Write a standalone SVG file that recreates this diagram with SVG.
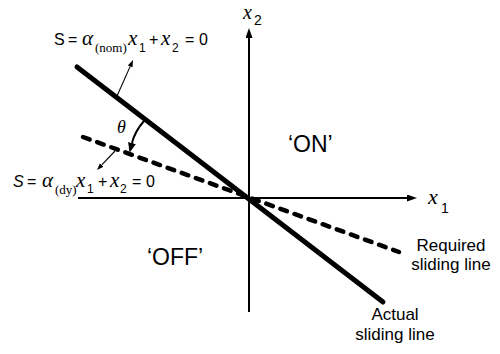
<svg xmlns="http://www.w3.org/2000/svg" width="500" height="354" viewBox="0 0 500 354">
<style>
.sans{font-family:"Liberation Sans",Arial,sans-serif;fill:#000}
.ser{font-family:"Liberation Serif","Times New Roman",serif;fill:#000}
.it{font-style:italic}
.axis{stroke:#000;stroke-width:2;fill:none}
.thin{stroke:#000;stroke-width:1.1;fill:none}
.lbl{font-size:17px;text-anchor:middle}
.reg{font-size:23px}
</style>
<defs>
<marker id="axArrow" markerUnits="userSpaceOnUse" markerWidth="10" markerHeight="8" refX="0" refY="3.5" orient="auto">
<path d="M0,0 L10,3.5 L0,7 z" fill="#000"/>
</marker>
<marker id="smArrow" markerUnits="userSpaceOnUse" markerWidth="8" markerHeight="6" refX="0" refY="2.5" orient="auto">
<path d="M0,0 L7,2.5 L0,5 z" fill="#000"/>
</marker>
<marker id="thArrow" markerUnits="userSpaceOnUse" markerWidth="11" markerHeight="9" refX="0" refY="4" orient="auto">
<path d="M0,0 L10,4 L0,8 z" fill="#000"/>
</marker>
</defs>
<rect width="500" height="354" fill="#fff"/>

<g id="connectors">
<line id="x1-axis" class="axis" x1="78" y1="198" x2="407" y2="198" marker-end="url(#axArrow)"/>
<line id="x2-axis" class="axis" x1="249" y1="312" x2="249" y2="38" marker-end="url(#axArrow)"/>
<line id="actual-line" x1="77" y1="67" x2="383" y2="302" stroke="#000" stroke-width="5" stroke-linecap="round"/>
<line id="required-line" x1="83" y1="137" x2="399" y2="252" stroke="#000" stroke-width="4.5" stroke-linecap="round" stroke-dasharray="7 8"/>
<line id="normal-nom" class="thin" x1="117" y1="96" x2="130.2" y2="66.4" marker-end="url(#smArrow)"/>
<line id="normal-dy" class="thin" x1="115" y1="151" x2="101.8" y2="164.9" marker-end="url(#smArrow)"/>
<path id="theta-arc" d="M144,121 Q135,131 132,143" stroke="#000" stroke-width="2" fill="none" marker-end="url(#thArrow)"/>
</g>

<g id="x2-label">
<text class="ser it" x="243" y="19" font-size="20">x</text>
<text class="sans" x="254" y="25" font-size="14">2</text>
</g>
<g id="x1-label">
<text class="ser it" x="428" y="204" font-size="22">x</text>
<text class="sans" x="441" y="213" font-size="14">1</text>
</g>

<g id="eq-nom">
<text class="sans" x="54" y="45" font-size="16">S</text>
<text class="sans" x="68" y="45" font-size="16">=</text>
<text class="ser it" x="82" y="45" font-size="21">α</text>
<text class="ser" x="95" y="52" font-size="13">(nom)</text>
<text class="ser it" x="128" y="45" font-size="21">x</text>
<text class="sans" x="139" y="52" font-size="12">1</text>
<text class="sans" x="149" y="45" font-size="16">+</text>
<text class="ser it" x="161" y="45" font-size="21">x</text>
<text class="sans" x="172" y="52" font-size="12">2</text>
<text class="sans" x="185" y="45" font-size="16">=</text>
<text class="sans" x="199" y="45" font-size="16">0</text>
</g>

<g id="eq-dy">
<text class="sans it" x="13" y="187" font-size="16">S</text>
<text class="sans" x="27" y="187" font-size="16">=</text>
<text class="ser it" x="42" y="187" font-size="21">α</text>
<text class="ser" x="55" y="194" font-size="13">(dy)</text>
<text class="ser it" x="76" y="187" font-size="21">x</text>
<text class="sans" x="87" y="193" font-size="12">1</text>
<text class="sans" x="98" y="187" font-size="16">+</text>
<text class="ser it" x="110" y="187" font-size="21">x</text>
<text class="sans" x="120" y="193" font-size="12">2</text>
<text class="sans" x="132" y="187" font-size="16">=</text>
<text class="sans" x="146" y="187" font-size="16">0</text>
</g>

<g id="theta">
<text class="ser it" x="117" y="133" font-size="18">θ</text>
</g>

<g id="on-region">
<text class="sans reg" x="288" y="152">‘ON’</text>
</g>
<g id="off-region">
<text class="sans reg" x="147" y="265">‘OFF’</text>
</g>

<g id="required-label">
<text class="sans lbl" x="451" y="251">Required</text>
<text class="sans lbl" x="451" y="270">sliding line</text>
</g>
<g id="actual-label">
<text class="sans lbl" x="395" y="320">Actual</text>
<text class="sans lbl" x="395" y="340">sliding line</text>
</g>
</svg>
